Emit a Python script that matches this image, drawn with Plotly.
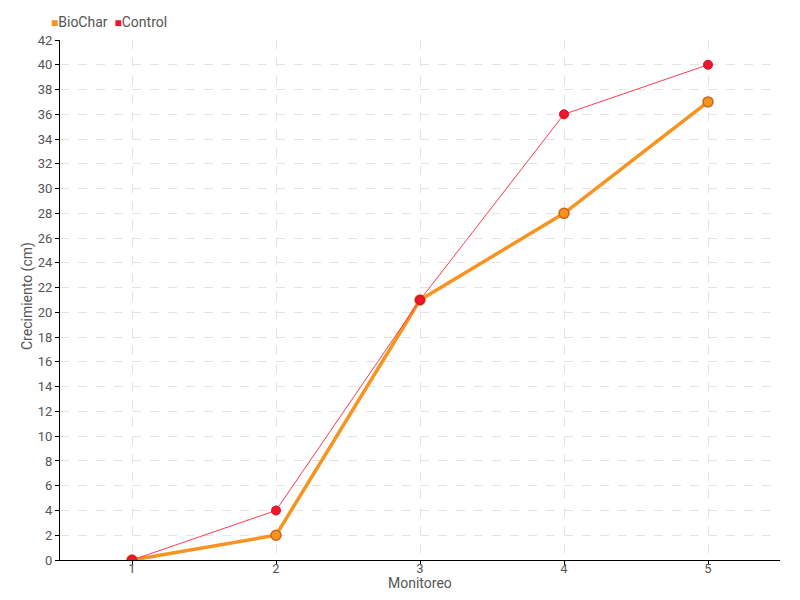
import plotly.graph_objects as go

monitoreo = [1, 2, 3, 4, 5]
biochar = [0, 2, 21, 28, 37]
control = [0, 4, 21, 36, 40]
y_ticks = list(range(0, 43, 2))

FONT = "Roboto, sans-serif"
ORANGE = "#F7931E"
RED = "#F0142D"

fig = go.Figure()
fig.add_trace(go.Scatter(
    x=monitoreo, y=biochar, mode="lines+markers", name="BioChar", showlegend=False,
    line=dict(color=ORANGE, width=3.5),
    marker=dict(size=10, color=ORANGE, line=dict(color="#C8691A", width=1.5)),
))
fig.add_trace(go.Scatter(
    x=monitoreo, y=control, mode="lines+markers", name="Control", showlegend=False,
    line=dict(color="#FF3A55", width=1),
    marker=dict(size=9, color=RED, line=dict(color="#D01020", width=1)),
))

fig.update_layout(
    width=800, height=600,
    margin=dict(l=52, r=28, t=32, b=48),
    plot_bgcolor="white", paper_bgcolor="white",
    font=dict(family=FONT, size=14, color="#555555"),
    showlegend=False,
    xaxis=dict(
        range=[0.5, 5.5], tickmode="array", tickvals=monitoreo, ticktext=[str(v) for v in monitoreo],
        showline=True, linecolor="black", linewidth=1,
        ticks="outside", ticklen=4, tickcolor="black", ticklabelstandoff=-8,
        tickfont=dict(size=13),
        showgrid=True, gridcolor="#e3e3e3", griddash="dash", gridwidth=1,
        zeroline=False, automargin=False,
    ),
    yaxis=dict(
        range=[0, 42], tickmode="array", tickvals=y_ticks,
        showline=True, linecolor="black", linewidth=1,
        ticks="outside", ticklen=4, tickcolor="black", tickfont=dict(size=13),
        showgrid=True, gridcolor="#e3e3e3", griddash="dash", gridwidth=1,
        zeroline=False, automargin=False,
    ),
    annotations=[
        dict(text=f'<span style="color:{ORANGE};font-size:12px">■</span>BioChar  <span style="color:{RED};font-size:12px">■</span>Control',
             xref="paper", yref="paper", x=0, y=1.0, xanchor="left", yanchor="middle",
             xshift=-11, yshift=18, showarrow=False, font=dict(size=14, color="#555555")),
        dict(text="Monitoreo", xref="paper", yref="paper", x=0.5, y=0,
             xanchor="center", yanchor="middle", yshift=-23, showarrow=False,
             font=dict(size=14, color="#555555")),
        dict(text="Crecimiento (cm)", xref="paper", yref="paper", x=0, y=0.5,
             xanchor="center", yanchor="middle", xshift=-33, yshift=4, textangle=-90,
             showarrow=False, font=dict(size=14, color="#555555")),
    ],
)

fig.write_html("out.html")
